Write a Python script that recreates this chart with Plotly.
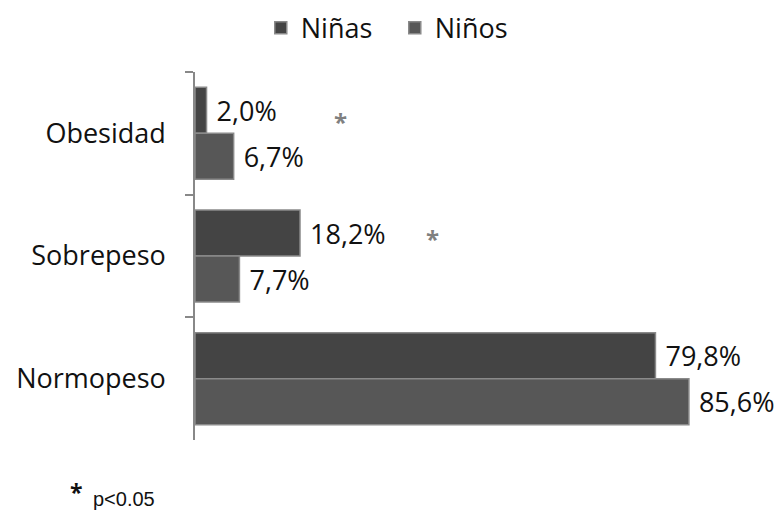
import plotly.graph_objects as go

categories = ["Obesidad", "Sobrepeso", "Normopeso"]
ninas = [2.0, 18.2, 79.8]
ninos = [6.7, 7.7, 85.6]
ninas_labels = ["2,0%", "18,2%", "79,8%"]
ninos_labels = ["6,7%", "7,7%", "85,6%"]

FONT = "Open Sans"
LBL = 27

fig = go.Figure()
fig.add_trace(go.Bar(
    name="Niñas", y=categories, x=ninas, orientation="h",
    text=ninas_labels, texttemplate="\u00a0%{text}", textposition="outside", cliponaxis=False,
    textfont=dict(size=LBL, color="#111111", family=FONT),
    marker=dict(color="#444444", line=dict(color="#8a8a8a", width=1.5)),
))
fig.add_trace(go.Bar(
    name="Niños", y=categories, x=ninos, orientation="h",
    text=ninos_labels, texttemplate="\u00a0%{text}", textposition="outside", cliponaxis=False,
    textfont=dict(size=LBL, color="#111111", family=FONT),
    marker=dict(color="#575757", line=dict(color="#8a8a8a", width=1.5)),
))

# significance asterisks
fig.add_annotation(x=25.3, y=-0.1, xref="x", yref="y", text="<b>*</b>", showarrow=False,
                   font=dict(size=24, color="#808080", family=FONT))
fig.add_annotation(x=41.1, y=0.86, xref="x", yref="y", text="<b>*</b>", showarrow=False,
                   font=dict(size=24, color="#808080", family=FONT))
# footnote
fig.add_annotation(x=-0.205, y=-0.14, xref="paper", yref="paper", text="<b>*</b>", showarrow=False,
                   xanchor="center", yanchor="middle",
                   font=dict(size=23, color="#111111", family=FONT))
fig.add_annotation(x=-0.18, y=-0.16, xref="paper", yref="paper", text="p<0.05",
                   showarrow=False, xanchor="left", yanchor="middle",
                   font=dict(size=20, color="#111111", family="Liberation Sans"))

fig.update_layout(
    width=774, height=503,
    margin=dict(l=187, r=10, t=64, b=71, autoexpand=False),
    paper_bgcolor="white", plot_bgcolor="white",
    barmode="group", bargap=0.25, bargroupgap=0.0,
    font=dict(family=FONT, size=LBL, color="#111111"),
    showlegend=True,
    legend=dict(orientation="h", x=0.114, xanchor="left", yref="container", y=0.96,
                yanchor="middle", font=dict(size=LBL, family=FONT), entrywidth=89,
                itemwidth=30),
    xaxis=dict(range=[0, 100], showgrid=False, showticklabels=False, zeroline=False,
               showline=False, ticks="", automargin=False),
    yaxis=dict(autorange="reversed", showline=True, linecolor="#888888", linewidth=1.5,
               ticks="outside", tickson="boundaries", ticklen=8, tickcolor="#888888",
               tickwidth=1.5, showgrid=False, ticklabelstandoff=22, automargin=False,
               tickfont=dict(size=LBL, family=FONT, color="#111111")),
)

fig.write_html("out.html")
